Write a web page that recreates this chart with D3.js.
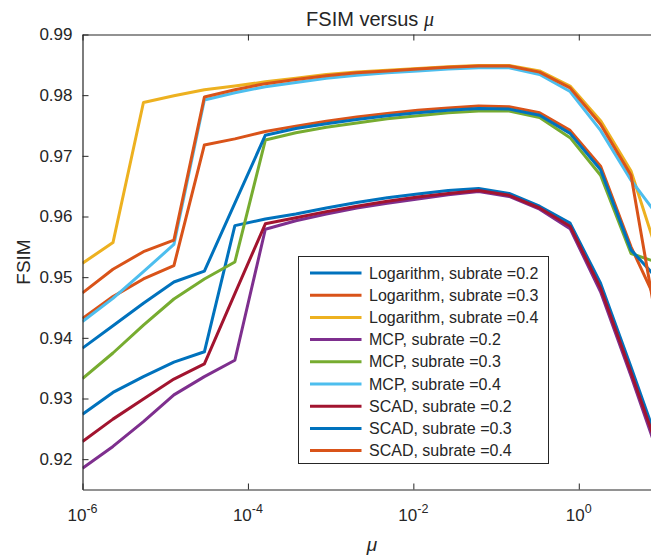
<!DOCTYPE html>
<html>
<head>
    <title>FSIM versus mu</title>
    <script src="https://d3js.org/d3.v7.min.js"></script>
    <style>
        body { margin: 0; background: #fff; }
        text { font-family: "Liberation Sans", Arial, sans-serif; fill: #262626; }
    </style>
</head>
<body>
    <svg width="651" height="556"></svg>
    <script>
        // mu values (logspace(-6, 1, 20))
        const muValues = [1e-6, 2.336e-6, 5.456e-6, 1.274e-5, 2.976e-5, 6.952e-5, 1.624e-4, 3.793e-4, 8.859e-4, 2.069e-3,
                          4.833e-3, 1.129e-2, 2.637e-2, 6.158e-2, 0.1438, 0.3360, 0.7848, 1.833, 4.281, 10];

        const seriesNames = ["Logarithm, subrate =0.2", "Logarithm, subrate =0.3", "Logarithm, subrate =0.4",
                             "MCP, subrate =0.2", "MCP, subrate =0.3", "MCP, subrate =0.4",
                             "SCAD, subrate =0.2", "SCAD, subrate =0.3", "SCAD, subrate =0.4"];

        const log02 = [0.9274, 0.9310, 0.9336, 0.9360, 0.9377, 0.9585, 0.9596, 0.9604, 0.9614, 0.9623,
                       0.9631, 0.9637, 0.9643, 0.9646, 0.9638, 0.9617, 0.9589, 0.9490, 0.9352, 0.9210];
        const log03 = [0.9432, 0.9468, 0.9497, 0.9519, 0.9718, 0.9728, 0.9740, 0.9749, 0.9757, 0.9764,
                       0.9770, 0.9775, 0.9779, 0.9782, 0.9781, 0.9771, 0.9742, 0.9683, 0.9550, 0.9442];
        const log04 = [0.9523, 0.9557, 0.9788, 0.9799, 0.9809, 0.9815, 0.9822, 0.9828, 0.9834, 0.9838,
                       0.9841, 0.9844, 0.9847, 0.9849, 0.9849, 0.9840, 0.9815, 0.9758, 0.9675, 0.9519];
        const mcp02 = [0.9185, 0.9221, 0.9262, 0.9306, 0.9336, 0.9363, 0.9579, 0.9593, 0.9604, 0.9614,
                       0.9622, 0.9629, 0.9636, 0.9641, 0.9633, 0.9612, 0.9580, 0.9476, 0.9337, 0.9192];
        const mcp03 = [0.9333, 0.9375, 0.9421, 0.9464, 0.9497, 0.9525, 0.9726, 0.9738, 0.9747, 0.9754,
                       0.9761, 0.9766, 0.9771, 0.9774, 0.9774, 0.9763, 0.9730, 0.9668, 0.9539, 0.9522];
        const mcp04 = [0.9427, 0.9465, 0.9509, 0.9554, 0.9792, 0.9804, 0.9814, 0.9821, 0.9828, 0.9833,
                       0.9837, 0.9840, 0.9843, 0.9845, 0.9845, 0.9834, 0.9806, 0.9742, 0.9660, 0.9593];
        const scad02 = [0.9229, 0.9266, 0.9299, 0.9332, 0.9357, 0.9473, 0.9588, 0.9598, 0.9608, 0.9617,
                        0.9625, 0.9632, 0.9638, 0.9643, 0.9635, 0.9614, 0.9584, 0.9482, 0.9343, 0.9200];
        const scad03 = [0.9383, 0.9420, 0.9457, 0.9492, 0.9510, 0.9622, 0.9734, 0.9745, 0.9753, 0.9760,
                        0.9766, 0.9771, 0.9775, 0.9778, 0.9777, 0.9767, 0.9737, 0.9677, 0.9545, 0.9490];
        const scad04 = [0.9474, 0.9513, 0.9542, 0.9561, 0.9797, 0.9809, 0.9819, 0.9826, 0.9832, 0.9837,
                        0.9840, 0.9843, 0.9846, 0.9848, 0.9848, 0.9838, 0.9812, 0.9752, 0.9668, 0.9378];

        const allSeries = [log02, log03, log04, mcp02, mcp03, mcp04, scad02, scad03, scad04];

        const yTicks = [0.92, 0.93, 0.94, 0.95, 0.96, 0.97, 0.98, 0.99];
        const xTickExps = [-6, -4, -2, 0];

        const svg = d3.select("svg");
        const plot = {left: 82.5, right: 661.5, top: 34.5, bottom: 489.5};

        const x = d3.scaleLog().domain([1e-6, 10]).range([plot.left, plot.right]);
        const y = d3.scaleLinear().domain([0.915, 0.99]).range([plot.bottom, plot.top]);
        const color = d3.scaleOrdinal()
            .domain(seriesNames)
            .range(["#0072BD", "#D95319", "#EDB120", "#7E2F8E", "#77AC30", "#4DBEEE", "#A2142F", "#0072BD", "#D95319"]);

        svg.append("defs").append("clipPath").attr("id", "clip")
            .append("rect")
            .attr("x", plot.left).attr("y", plot.top)
            .attr("width", plot.right - plot.left).attr("height", plot.bottom - plot.top);

        // lines
        const line = d3.line()
            .x((d, i) => x(muValues[i]))
            .y(d => y(d));

        svg.append("g").attr("clip-path", "url(#clip)")
            .selectAll("path")
            .data(allSeries)
            .enter().append("path")
            .attr("d", line)
            .attr("fill", "none")
            .attr("stroke", (d, i) => color(seriesNames[i]))
            .attr("stroke-width", 3)
            .attr("stroke-linejoin", "round");

        // axes (MATLAB style, ticks inward, box on)
        const axisColor = "#262626";
        const xAxis = svg.append("g")
            .attr("transform", `translate(0,${plot.bottom})`)
            .call(d3.axisBottom(x).tickValues(xTickExps.map(e => Math.pow(10, e))).tickSizeInner(-6).tickSizeOuter(0).tickFormat(""));
        const xAxisTop = svg.append("g")
            .attr("transform", `translate(0,${plot.top})`)
            .call(d3.axisTop(x).tickValues(xTickExps.map(e => Math.pow(10, e))).tickSizeInner(-6).tickSizeOuter(0).tickFormat(""));
        const yAxis = svg.append("g")
            .attr("transform", `translate(${plot.left},0)`)
            .call(d3.axisLeft(y).tickValues(yTicks).tickSizeInner(-6).tickSizeOuter(0).tickPadding(10).tickFormat(d3.format(".2f")));

        [xAxis, xAxisTop, yAxis].forEach(g => {
            g.select(".domain").attr("stroke", axisColor).attr("stroke-width", 1.2);
            g.selectAll(".tick line").attr("stroke", axisColor).attr("stroke-width", 1);
        });
        yAxis.selectAll(".tick text")
            .attr("font-size", 17)
            .attr("font-family", "Liberation Sans, Arial, sans-serif")
            .attr("fill", axisColor);

        // x tick labels with superscripts
        const xLabels = svg.append("g");
        xTickExps.forEach(e => {
            const t = xLabels.append("text")
                .attr("x", x(Math.pow(10, e)))
                .attr("y", 521)
                .attr("text-anchor", "middle")
                .attr("font-size", 17);
            t.append("tspan").text("10");
            t.append("tspan").attr("dy", -8).attr("font-size", 12.5).text(e);
        });

        // title and labels
        const title = svg.append("text")
            .attr("x", 370)
            .attr("y", 26)
            .attr("text-anchor", "middle")
            .attr("font-size", 20);
        title.append("tspan").text("FSIM versus ");
        title.append("tspan").attr("font-style", "italic").attr("font-family", "Liberation Serif, serif").text("μ");

        svg.append("text")
            .attr("x", 372)
            .attr("y", 551)
            .attr("text-anchor", "middle")
            .attr("font-size", 19)
            .attr("font-style", "italic")
            .attr("font-family", "Liberation Serif, serif")
            .text("μ");

        svg.append("text")
            .attr("transform", `translate(30,${(plot.top + plot.bottom) / 2}) rotate(-90)`)
            .attr("text-anchor", "middle")
            .attr("font-size", 19)
            .text("FSIM");

        // legend
        const lg = {x: 298.5, y: 256.5, w: 250, h: 207, row: 22.2};
        svg.append("rect")
            .attr("x", lg.x).attr("y", lg.y)
            .attr("width", lg.w).attr("height", lg.h)
            .attr("fill", "#fff")
            .attr("stroke", axisColor)
            .attr("stroke-width", 1);

        const legend = svg.selectAll(".legend")
            .data(seriesNames)
            .enter().append("g")
            .attr("class", "legend")
            .attr("transform", (d, i) => `translate(${lg.x},${lg.y + 16.5 + i * lg.row})`);

        legend.append("line")
            .attr("x1", 11.5).attr("x2", 63)
            .attr("stroke", d => color(d))
            .attr("stroke-width", 3);

        legend.append("text")
            .attr("x", 70.5)
            .attr("dy", "0.35em")
            .attr("font-size", 16)
            .text(d => d);
    </script>
</body>
</html>
